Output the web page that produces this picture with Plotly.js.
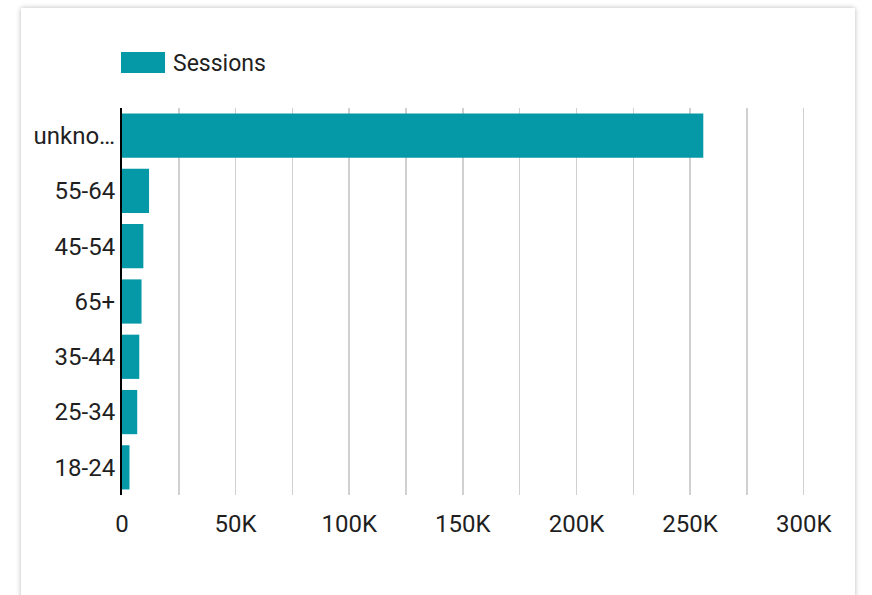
<!DOCTYPE html>
<html>
<head>
<meta charset="utf-8">
<script src="https://cdn.plot.ly/plotly-3.0.1.min.js"></script>
<style>
  html, body { margin: 0; padding: 0; background: #ffffff; width: 872px; height: 595px; overflow: hidden; }
  #card { position: absolute; left: 21px; top: 8px; width: 834px; height: 620px; background: #fff;
          box-shadow: 0 0 5px rgba(0,0,0,0.28); }
  #chart { position: absolute; left: 0; top: 0; width: 872px; height: 595px; }
</style>
</head>
<body>
<div id="card"></div>
<div id="chart"></div>
<script>
const seriesName = "Sessions";
const categories = ["unkno…", "55-64", "45-54", "65+", "35-44", "25-34", "18-24"];
const sessions = [255800, 11900, 9400, 8600, 7600, 6700, 3300];
const tickValues = [0, 50000, 100000, 150000, 200000, 250000, 300000];
const tickLabels = ["0", "50K", "100K", "150K", "200K", "250K", "300K"];

const barColor = "#0599a8";
const textColor = "#1f1f1f";

const trace = {
  type: "bar",
  orientation: "h",
  name: seriesName,
  x: sessions,
  y: categories,
  marker: { color: barColor },
  width: 0.8,
  hoverinfo: "x+y"
};

const layout = {
  width: 872,
  height: 595,
  margin: { l: 122, r: 66, t: 108, b: 100 },
  paper_bgcolor: "rgba(0,0,0,0)",
  plot_bgcolor: "rgba(0,0,0,0)",
  font: { family: "Roboto, sans-serif", size: 24, color: textColor },
  showlegend: false,
  xaxis: {
    range: [0, 301000],
    tickvals: tickValues,
    ticktext: tickLabels,
    showgrid: true,
    gridcolor: "#d0d0d0",
    gridwidth: 1.5,
    minor: { dtick: 25000, tick0: 0, showgrid: true, gridcolor: "#d0d0d0", gridwidth: 1.5 },
    zeroline: false,
    showline: false,
    ticks: "",
    ticklabelstandoff: 12,
    tickfont: { size: 24, color: textColor },
    fixedrange: true
  },
  yaxis: {
    type: "category",
    autorange: "reversed",
    showgrid: false,
    zeroline: false,
    showline: true,
    linecolor: "#000000",
    linewidth: 2,
    ticks: "",
    ticklabelstandoff: 0,
    tickfont: { size: 24, color: textColor },
    fixedrange: true
  },
  shapes: [{
    type: "rect",
    xref: "paper", yref: "paper",
    xsizemode: "pixel", ysizemode: "pixel",
    xanchor: 0, yanchor: 1,
    x0: -1, x1: 43, y0: 35, y1: 56,
    fillcolor: barColor,
    line: { width: 0 }
  }],
  annotations: [{
    text: seriesName,
    xref: "paper", yref: "paper",
    x: 0, y: 1,
    xanchor: "left", yanchor: "middle",
    xshift: 49, yshift: 45,
    showarrow: false,
    font: { size: 23, color: textColor }
  }]
};

Plotly.newPlot("chart", [trace], layout, { displayModeBar: false, staticPlot: true });
</script>
</body>
</html>
